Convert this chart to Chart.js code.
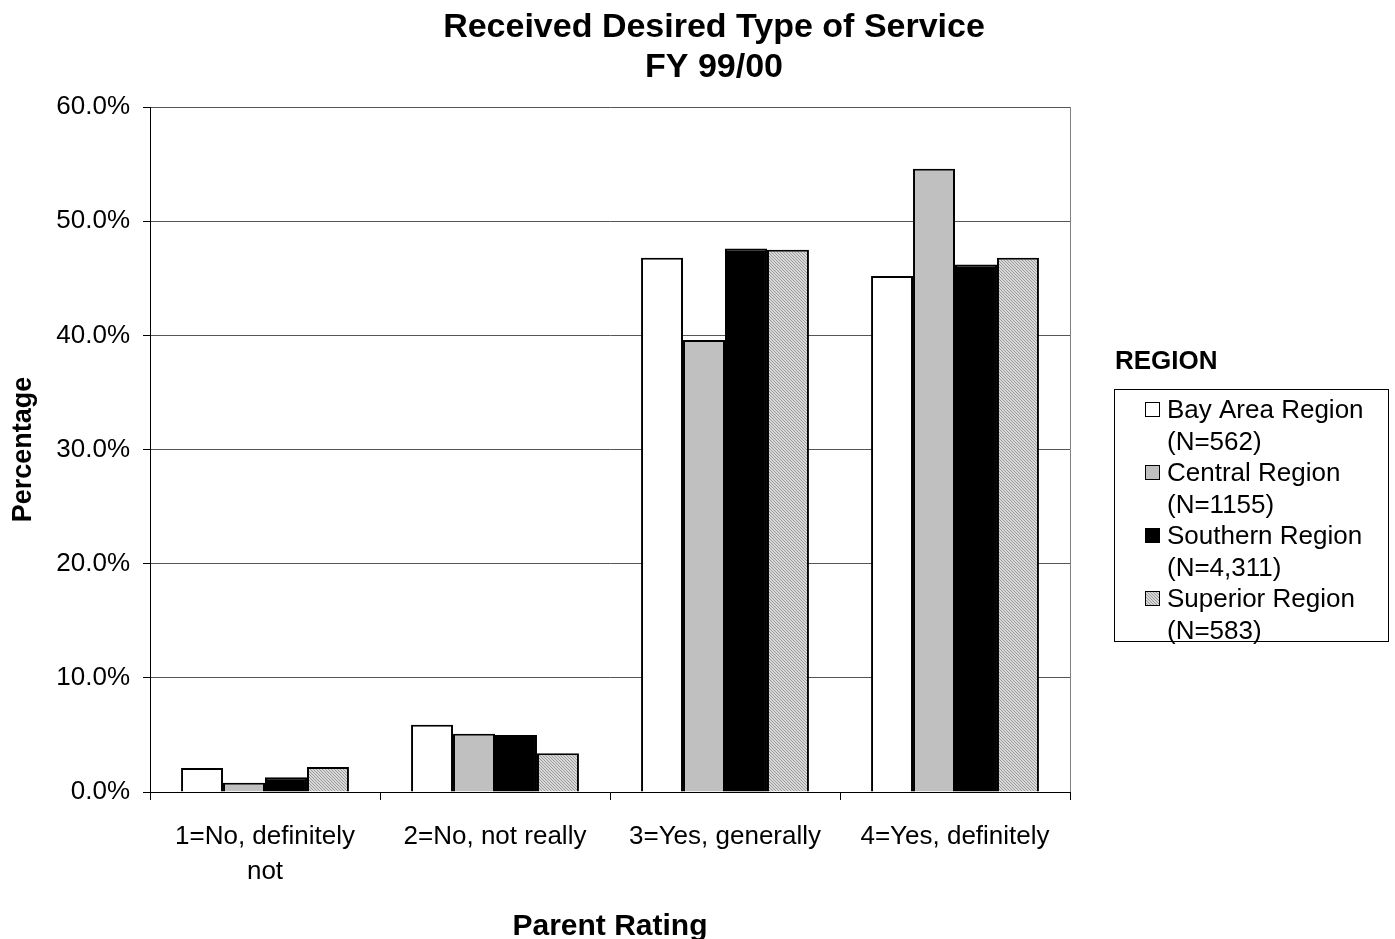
<!DOCTYPE html>
<html>
<head>
<meta charset="utf-8">
<script src="https://cdn.jsdelivr.net/npm/chart.js@4/dist/chart.umd.min.js"></script>
<style>
  html, body { margin: 0; padding: 0; background: #fff; }
  #wrap { width: 1395px; height: 939px; }
</style>
</head>
<body>
<div id="wrap"><canvas id="service" width="1395" height="939"></canvas></div>
<script>
const ratings = [["1=No, definitely", "not"], "2=No, not really", "3=Yes, generally", "4=Yes, definitely"];
const regionNames = ["Bay Area Region", "Central Region", "Southern Region", "Superior Region"];
const regionN = ["(N=562)", "(N=1155)", "(N=4,311)", "(N=583)"];

const bayArea = [2.1, 5.9, 46.8, 45.2];
const central = [0.8, 5.1, 39.6, 54.6];
const southern = [1.3, 5.0, 47.6, 46.2];
const superior = [2.2, 3.4, 47.5, 46.8];

const yTicks = [0, 10, 20, 30, 40, 50, 60];
const FONT = "'Liberation Sans', Arial, sans-serif";

// fine grey stipple used for the Superior bars
function stipple() {
  const c = document.createElement("canvas");
  c.width = 3;
  c.height = 3;
  const g = c.getContext("2d");
  g.fillStyle = "#d8d8d8";
  g.fillRect(0, 0, 3, 3);
  g.fillStyle = "#9c9c9c";
  for (let i = 0; i < 3; i++) g.fillRect(i, i, 1, 1);
  return g.createPattern(c, "repeat");
}

const fills = ["#ffffff", "#c0c0c0", "#000000", stipple()];
const series = [bayArea, central, southern, superior];

const extras = {
  id: "extras",
  beforeDraw(chart) {
    const c = chart.ctx;
    c.save();
    c.fillStyle = "#fff";
    c.fillRect(0, 0, chart.width, chart.height);
    c.restore();
  },
  afterDraw(chart) {
    const c = chart.ctx;
    const a = chart.chartArea;
    c.save();
    // plot area frame on the right
    c.strokeStyle = "#808080";
    c.lineWidth = 1;
    c.beginPath();
    c.moveTo(a.right + 0.5, a.top);
    c.lineTo(a.right + 0.5, a.bottom);
    c.stroke();

    // title
    c.fillStyle = "#000";
    c.textAlign = "center";
    c.textBaseline = "middle";
    c.font = "bold 34px " + FONT;
    c.fillText("Received Desired Type of Service", 714, 28);
    c.fillText("FY 99/00", 714, 68);

    // legend
    c.textAlign = "left";
    c.font = "bold 26px " + FONT;
    c.fillText("REGION", 1115, 362);
    c.strokeStyle = "#000";
    c.lineWidth = 1;
    c.strokeRect(1114.5, 389.5, 274, 252);
    c.font = "26px " + FONT;
    regionNames.forEach((name, i) => {
      const y = 411 + i * 63;
      c.fillStyle = fills[i];
      c.fillRect(1145, y - 9, 15, 15);
      c.strokeRect(1145.5, y - 8.5, 14, 14);
      c.fillStyle = "#000";
      c.fillText(name, 1167, y);
      c.fillText(regionN[i], 1167, y + 32);
    });
    c.restore();
  },
};

new Chart(document.getElementById("service"), {
  type: "bar",
  data: {
    labels: ratings,
    datasets: series.map((data, i) => ({
      label: regionNames[i] + " " + regionN[i],
      data: data,
      backgroundColor: fills[i],
      borderColor: "#000",
      borderWidth: 2,
      categoryPercentage: 0.73,
      barPercentage: 1.0,
    })),
  },
  options: {
    responsive: false,
    devicePixelRatio: 1,
    animation: false,
    layout: { padding: { top: 107, right: 325, left: 0, bottom: 0 } },
    plugins: { legend: { display: false }, tooltip: { enabled: false } },
    scales: {
      x: {
        afterFit: (s) => { s.height = 147; },
        grid: {
          offset: true,
          drawOnChartArea: false,
          tickLength: 8,
          tickColor: "#000",
        },
        border: { color: "#000", width: 1 },
        ticks: {
          color: "#000",
          padding: 20,
          maxRotation: 0,
          autoSkip: false,
          font: { family: FONT, size: 26, lineHeight: 1.32 },
        },
        title: {
          display: true,
          text: "Parent Rating",
          color: "#000",
          padding: 0,
          font: { family: FONT, size: 30, weight: "bold", lineHeight: 0.8 },
        },
      },
      y: {
        min: 0,
        max: 60,
        afterFit: (s) => { s.width = 150; },
        afterBuildTicks: (s) => { s.ticks = yTicks.map((v) => ({ value: v })); },
        grid: { color: "#555", tickColor: "#000", tickLength: 7 },
        border: { color: "#000", width: 1 },
        ticks: {
          color: "#000",
          padding: 13,
          font: { family: FONT, size: 26 },
          callback: (v) => v.toFixed(1) + "%",
        },
        title: {
          display: true,
          text: "Percentage",
          color: "#000",
          padding: 7,
          font: { family: FONT, size: 27, weight: "bold", lineHeight: 1.2 },
        },
      },
    },
  },
  plugins: [extras],
});
</script>
</body>
</html>
